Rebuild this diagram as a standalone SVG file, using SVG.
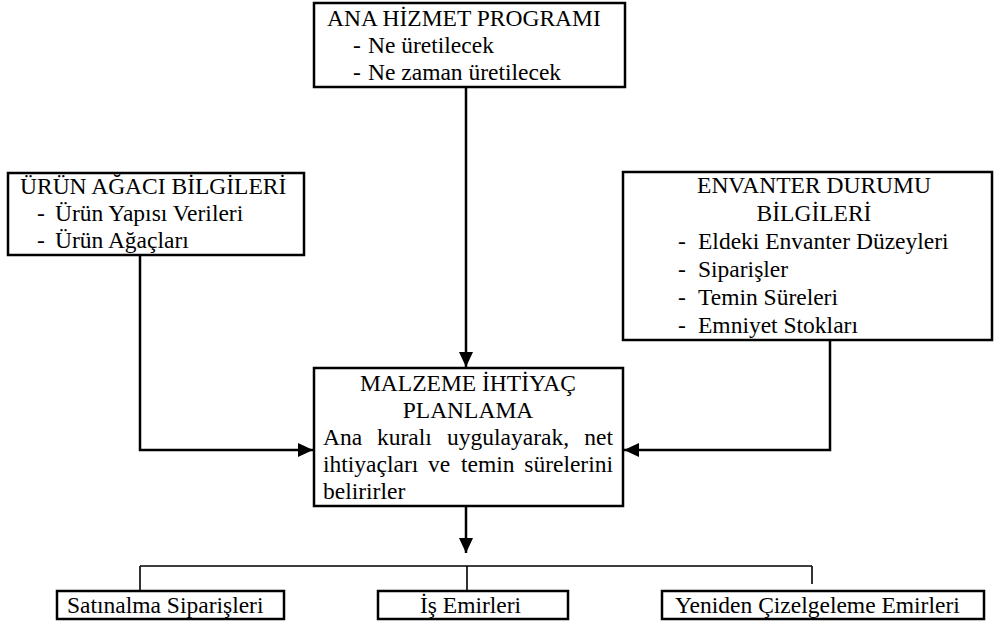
<svg xmlns="http://www.w3.org/2000/svg" width="1000" height="626" viewBox="0 0 1000 626">
  <style>
    .box { fill: #ffffff; stroke: #000000; stroke-width: 2.5; }
    .t { font-family: "Liberation Serif", "Times New Roman", serif; font-size: 23.5px; fill: #000000; }
    .c { text-anchor: middle; }
    .e { text-anchor: end; }
    .link { fill: none; stroke: #000000; stroke-width: 2.5; }
    .tree { fill: none; stroke: #000000; stroke-width: 1.6; }
  </style>
  <defs>
    <marker id="arrow" markerUnits="userSpaceOnUse" markerWidth="16" markerHeight="14" refX="15" refY="7" orient="auto">
      <path d="M0,0 L15,7 L0,14 z" fill="#000000"/>
    </marker>
  </defs>
  <rect width="1000" height="626" fill="#ffffff"/>

  <!-- connectors -->
  <g id="connectors">
    <path class="link" d="M466,87 L466,367" marker-end="url(#arrow)"/>
    <path class="link" d="M140,255 L140,450 L313,450" marker-end="url(#arrow)"/>
    <path class="link" d="M830,340 L830,450 L624,450" marker-end="url(#arrow)"/>
    <path class="link" d="M466,506 L466,553" marker-end="url(#arrow)"/>
    <path class="tree" d="M140,566 L812,566 M140,566 L140,591 M467,566 L467,591 M812,566 L812,584"/>
  </g>

  <!-- master production schedule -->
  <g id="ana-hizmet-programi">
    <rect class="box" x="314" y="3" width="311" height="84"/>
    <text class="t" x="327" y="26">ANA HİZMET PROGRAMI</text>
    <text class="t" x="353" y="53">-</text>
    <text class="t" x="368" y="53">Ne üretilecek</text>
    <text class="t" x="353" y="80">-</text>
    <text class="t" x="368" y="80">Ne zaman üretilecek</text>
  </g>

  <!-- bill of materials -->
  <g id="urun-agaci">
    <rect class="box" x="8" y="173" width="296" height="82"/>
    <text class="t" x="20" y="194">ÜRÜN AĞACI BİLGİLERİ</text>
    <text class="t" x="37" y="221">-</text>
    <text class="t" x="55" y="221">Ürün Yapısı Verileri</text>
    <text class="t" x="37" y="248">-</text>
    <text class="t" x="55" y="248">Ürün Ağaçları</text>
  </g>

  <!-- inventory status -->
  <g id="envanter-durumu">
    <rect class="box" x="623" y="172" width="369" height="168"/>
    <text class="t c" x="814" y="193">ENVANTER DURUMU</text>
    <text class="t c" x="814" y="221">BİLGİLERİ</text>
    <text class="t" x="678" y="249">-</text>
    <text class="t" x="698" y="249">Eldeki Envanter Düzeyleri</text>
    <text class="t" x="678" y="277">-</text>
    <text class="t" x="698" y="277">Siparişler</text>
    <text class="t" x="678" y="305">-</text>
    <text class="t" x="698" y="305">Temin Süreleri</text>
    <text class="t" x="678" y="333">-</text>
    <text class="t" x="698" y="333">Emniyet Stokları</text>
  </g>

  <!-- MRP core -->
  <g id="malzeme-ihtiyac-planlama">
    <rect class="box" x="314" y="368" width="309" height="138"/>
    <text class="t c" x="468" y="391">MALZEME İHTİYAÇ</text>
    <text class="t c" x="468" y="418">PLANLAMA</text>
    <!-- justified paragraph, word by word -->
    <text class="t" x="323" y="445">Ana</text>
    <text class="t" x="377" y="445">kuralı</text>
    <text class="t" x="447" y="445">uygulayarak,</text>
    <text class="t e" x="613" y="445">net</text>
    <text class="t" x="323" y="472">ihtiyaçları</text>
    <text class="t" x="428" y="472">ve</text>
    <text class="t" x="461" y="472">temin</text>
    <text class="t e" x="613" y="472">sürelerini</text>
    <text class="t" x="323" y="499">belirirler</text>
  </g>

  <!-- outputs -->
  <g id="satinalma-siparisleri">
    <rect class="box" x="57" y="591" width="227" height="28"/>
    <text class="t" x="67" y="613">Satınalma Siparişleri</text>
  </g>
  <g id="is-emirleri">
    <rect class="box" x="378" y="591" width="190" height="28"/>
    <text class="t" x="420" y="613">İş Emirleri</text>
  </g>
  <g id="yeniden-cizelgeleme-emirleri">
    <rect class="box" x="662" y="591" width="322" height="28"/>
    <text class="t" x="675" y="613">Yeniden Çizelgeleme Emirleri</text>
  </g>
</svg>
